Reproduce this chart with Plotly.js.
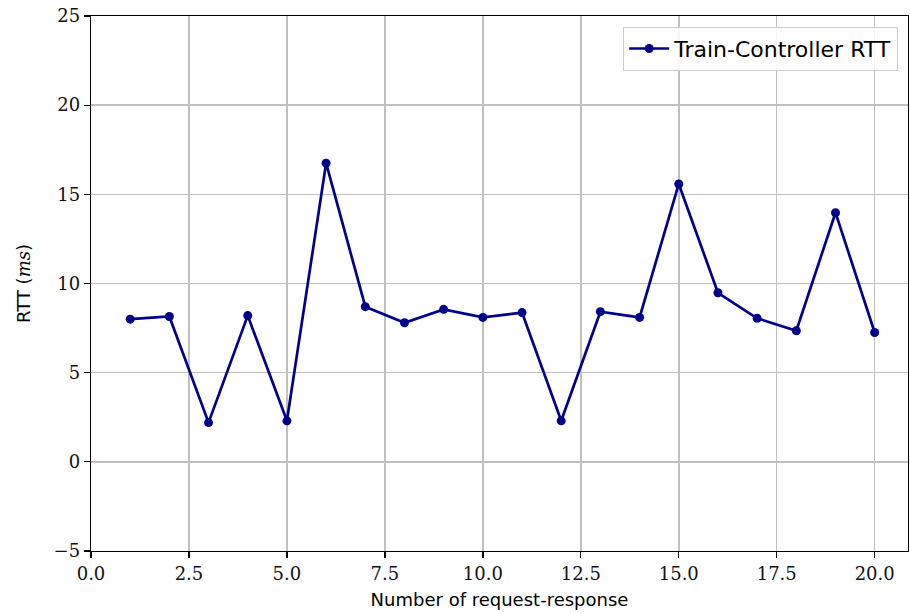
<!DOCTYPE html>
<html>
<head>
<meta charset="utf-8">
<script src="https://cdn.plot.ly/plotly-3.0.1.min.js"></script>
<style>html,body{margin:0;padding:0;background:#fff;}</style>
</head>
<body>
<div id="chart" style="width:910px;height:613px;"></div>
<script>
const requestIndex = [1,2,3,4,5,6,7,8,9,10,11,12,13,14,15,16,17,18,19,20];
const rttMs = [8.0,8.15,2.2,8.2,2.3,16.75,8.7,7.8,8.55,8.1,8.37,2.3,8.42,8.1,15.58,9.48,8.05,7.35,13.97,7.25];
const seriesName = "Train-Controller RTT";
const xTicks = [0,2.5,5,7.5,10,12.5,15,17.5,20];
const xTickText = ["0.0","2.5","5.0","7.5","10.0","12.5","15.0","17.5","20.0"];
const yTicks = [-5,0,5,10,15,20,25];
const yTickText = ["\u22125","0","5","10","15","20","25"];

const serif = "DejaVu Serif, serif";
const sans = "DejaVu Sans, sans-serif";

const trace = {
  x: requestIndex, y: rttMs, name: seriesName,
  type: "scatter", mode: "lines+markers",
  line: {color: "#00008B", width: 2.7},
  marker: {color: "#00008B", size: 9},
  showlegend: true
};

const layout = {
  width: 910, height: 613,
  margin: {l: 91, r: 2, t: 16, b: 62},
  paper_bgcolor: "#fff", plot_bgcolor: "#fff",
  xaxis: {
    range: [0, 20.85],
    tickvals: xTicks, ticktext: xTickText,
    showgrid: true, gridcolor: "#c0c0c0", gridwidth: 1.5,
    zeroline: false,
    showline: true, linecolor: "#000", linewidth: 1.3, mirror: true,
    ticks: "outside", ticklen: 6, tickwidth: 1.3, tickcolor: "#000",
    tickfont: {family: serif, size: 18, color: "#111"},
    title: {text: "Number of request-response", font: {family: sans, size: 18, color: "#000"}, standoff: 10}
  },
  yaxis: {
    range: [-5, 25],
    tickvals: yTicks, ticktext: yTickText,
    showgrid: true, gridcolor: "#c0c0c0", gridwidth: 1.5,
    zeroline: false,
    showline: true, linecolor: "#000", linewidth: 1.3, mirror: true,
    ticks: "outside", ticklen: 6, tickwidth: 1.3, tickcolor: "#000",
    tickfont: {family: serif, size: 18, color: "#111"},
    title: {text: "RTT (<span style=\"font-family:DejaVu Serif;font-style:italic\">ms</span>)", font: {family: sans, size: 18, color: "#000"}, standoff: 18}
  },
  legend: {
    x: 0.988, y: 0.98, xanchor: "right", yanchor: "top",
    bgcolor: "rgba(255,255,255,0.85)", bordercolor: "#cccccc", borderwidth: 1,
    itemwidth: 40,
    font: {family: sans, size: 22, color: "#000"}
  }
};

Plotly.newPlot("chart", [trace], layout, {displayModeBar: false, staticPlot: true});
</script>
</body>
</html>
